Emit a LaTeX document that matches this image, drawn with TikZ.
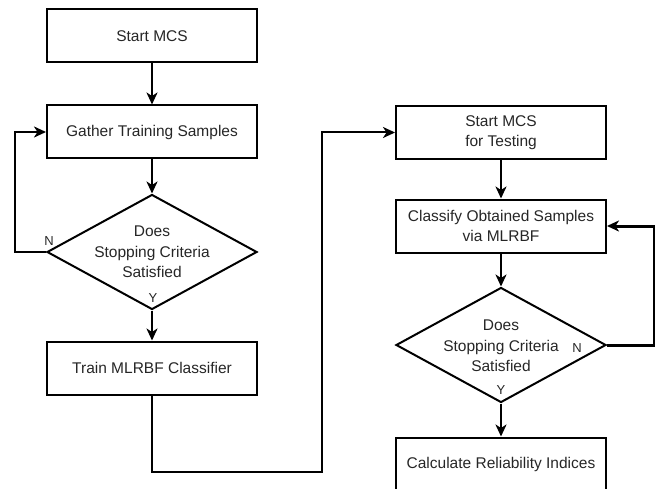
\documentclass[tikz,border=0pt]{standalone}
\usepackage{fontspec}
\setmainfont{Liberation Sans}
\usetikzlibrary{shapes.geometric,arrows.meta}
\begin{document}
\begin{tikzpicture}[x=1pt,y=-1pt,
  every node/.style={font=\fontsize{15.5}{20.5}\selectfont, text=black!85},
  box/.style={draw=black, line width=2pt, minimum width=210pt, minimum height=53pt, inner sep=0pt, align=center},
  dia/.style={draw=black, line width=2pt, shape=diamond, minimum width=210pt, minimum height=115pt, inner sep=0pt},
  lbl/.style={font=\fontsize{13}{15}\selectfont, inner sep=0pt},
  con/.style={line width=2pt, draw=black},
  arr/.style={con, -{Stealth[length=12pt,width=11pt,inset=3.5pt]}},
  thick con/.style={line width=3pt, draw=black, -{Stealth[length=12pt,width=11pt,inset=3.5pt]}}]
\useasboundingbox (0,0) rectangle (655,489);
\clip (0,0) rectangle (655,489);

% left column
\node[box] (s1) at (152,36) {Start MCS};
\node[box] (g1) at (152,132) {Gather Training Samples};
\node[dia] (d1) at (152,252) {};
\node[align=center] (d1t) at (152,252) {Does\\Stopping Criteria\\Satisfied};
\node[lbl] (d1n) at (49,241) {N};
\node[lbl] (d1y) at (153,298) {Y};
\node[box] (tr) at (152,368) {Train MLRBF Classifier};

% right column
\node[box] (t1) at (501,132.5) {Start MCS\\for Testing};
\node[box] (c1) at (501,226) {Classify Obtained Samples\\via MLRBF};
\node[dia] (d2) at (501,345) {};
\node[align=center] (d2t) at (501,346) {Does\\Stopping Criteria\\Satisfied};
\node[lbl] (d2n) at (577,348) {N};
\node[lbl] (d2y) at (501,390) {Y};
\node[box] (ca) at (501,464) {Calculate Reliability Indices};

% connector corners
\coordinate (l1) at (15,252);
\coordinate (b1) at (152,472);
\coordinate (b2) at (322,472);
\coordinate (r1) at (654,345);

% connectors
\draw[arr] (s1) -- (g1);
\draw[arr] (g1) -- (d1);
\draw[arr] (d1.west) -- (l1) |- (g1.west);
\draw[arr] (d1) -- (tr);
\draw[arr] (tr.south) -- (b1) -- (b2) |- (t1.west);
\draw[arr] (t1) -- (c1);
\draw[arr] (c1) -- (d2);
\draw[thick con] (d2.east) -- (r1) |- (c1.east);
\draw[arr] (d2) -- (ca);
\end{tikzpicture}
\end{document}
